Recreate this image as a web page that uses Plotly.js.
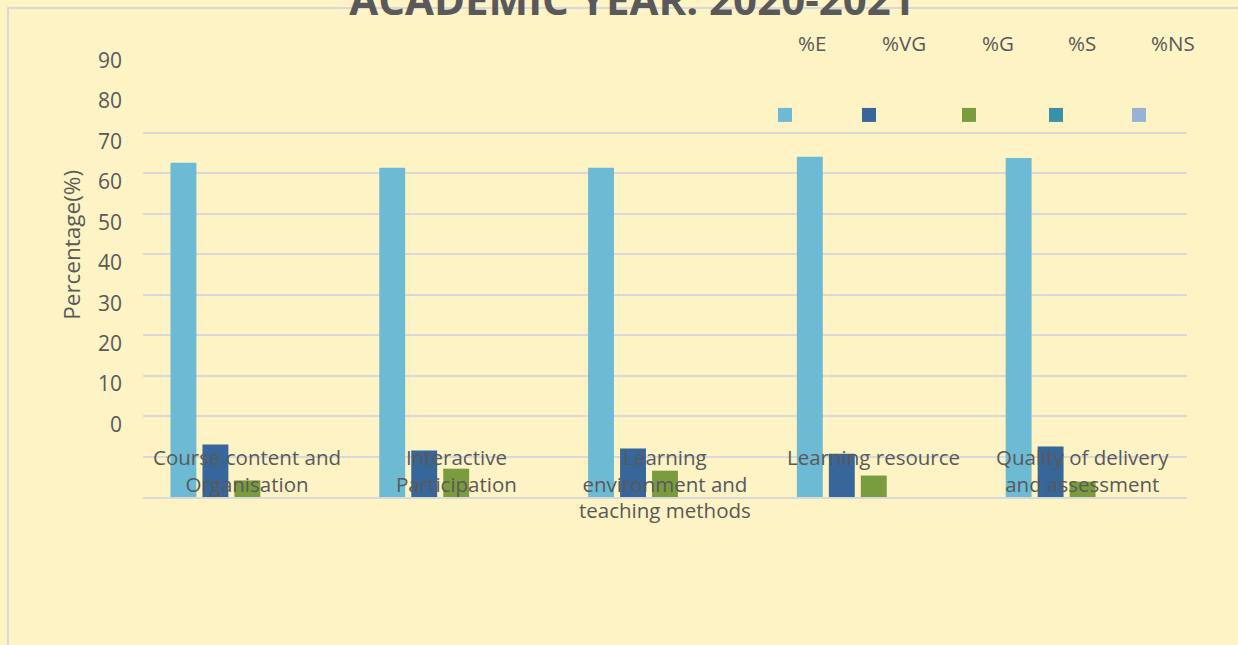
<!DOCTYPE html>
<html>
<head>
<meta charset="utf-8">
<script src="https://cdn.plot.ly/plotly-3.0.1.min.js"></script>
<style>
  html, body { margin: 0; padding: 0; background: #FDF3C5; }
  #chart { width: 1238px; height: 645px; }
</style>
</head>
<body>
<div id="chart"></div>
<script>
// ---- data ----
const categories = [
  "Course content and Organisation",
  "Interactive Participation",
  "Learning environment and teaching methods",
  "Learning resource",
  "Quality of delivery and assessment"
];
const categoryLabels = [
  "Course content and<br>Organisation",
  "Interactive<br>Participation",
  "Learning<br>environment and<br>teaching methods",
  "Learning resource",
  "Quality of delivery<br>and assessment"
];
const seriesNames = ["%E", "%VG", "%G", "%S", "%NS"];
const pctE  = [82.6, 81.4, 81.4, 84.1, 83.8];
const pctVG = [13.0, 11.5, 12.0, 10.7, 12.5];
const pctG  = [4.1, 7.0, 6.5, 5.3, 3.8];
const pctS  = [0, 0, 0, 0, 0];
const pctNS = [0, 0, 0, 0, 0];
const yTickLabels = ["0", "10", "20", "30", "40", "50", "60", "70", "80", "90"];
const gridValues = [0, 10, 20, 30, 40, 50, 60, 70, 80, 90];
const titleText = "ACADEMIC YEAR: 2020-2021";
const yTitle = "Percentage(%)";

// ---- styles ----
const colors = ["#6DBAD4", "#37669B", "#7B9C3E", "#3891A8", "#95B3D7"];
const textColor = "#595959";
const gridColor = "#D9D9D9";
const font = "Open Sans, Noto Sans, sans-serif";

const W = 1238, H = 645;
const plotL = 143, plotR = 1187, plotT = 52, plotB = 497.5;
const pw = plotR - plotL, ph = plotB - plotT;
const px2x = p => (p - plotL) / pw;
const px2y = p => (plotB - p) / ph;

const allSeries = [pctE, pctVG, pctG, pctS, pctNS];
const traces = allSeries.map((vals, i) => ({
  type: "bar",
  name: seriesNames[i],
  x: categories,
  y: vals,
  marker: { color: colors[i] },
  showlegend: false,
  hoverinfo: "x+y+name"
}));
// invisible trace for secondary (label) axis
traces.push({
  type: "scatter", x: [categories[0]], y: [0], yaxis: "y2",
  mode: "markers", marker: { opacity: 0 }, showlegend: false, hoverinfo: "skip"
});

const annotations = [];
categories.forEach((c, i) => {
  annotations.push({
    x: c, xref: "x", y: px2y(441), yref: "paper",
    xanchor: "center", yanchor: "top",
    text: categoryLabels[i], showarrow: false,
    font: { family: font, size: 20.5, color: textColor }
  });
});
annotations.push({
  x: px2x(72), xref: "paper", y: px2y(245), yref: "paper",
  xanchor: "center", yanchor: "middle", textangle: -90,
  text: yTitle, showarrow: false,
  font: { family: font, size: 22.5, color: textColor }
});

// legend (text above, swatches below, as in the reference)
const legendLabelLeft = [798, 882, 982, 1068, 1151];
const legendSwatchCenter = [785, 869, 969, 1056, 1139];
const shapes = [];
seriesNames.forEach((n, i) => {
  annotations.push({
    x: px2x(legendLabelLeft[i] - 2), xref: "paper", y: px2y(43), yref: "paper",
    xanchor: "left", yanchor: "middle", text: n, showarrow: false,
    font: { family: font, size: 20.5, color: textColor }
  });
  shapes.push({
    type: "rect", xref: "paper", yref: "paper",
    x0: px2x(legendSwatchCenter[i] - 7), x1: px2x(legendSwatchCenter[i] + 7),
    y0: px2y(115 + 7), y1: px2y(115 - 7),
    fillcolor: colors[i], line: { width: 0 }
  });
});
// chart frame
shapes.push({
  type: "path", xref: "paper", yref: "paper",
  path: `M ${px2x(8)},${px2y(700)} L ${px2x(8)},${px2y(8)} L ${px2x(1260)},${px2y(8)}`,
  line: { color: "#D9D9D9", width: 2 }, layer: "below"
});

const layout = {
  width: W, height: H,
  paper_bgcolor: "#FDF3C5",
  plot_bgcolor: "rgba(0,0,0,0)",
  margin: { l: plotL, r: W - plotR, t: plotT, b: H - plotB, pad: 0 },
  title: {
    text: "<b>" + titleText + "</b>",
    x: 632 / W, xanchor: "center", xref: "container",
    y: 1, yanchor: "middle", yref: "container",
    font: { family: font, size: 42, color: textColor }
  },
  barmode: "group",
  bargap: 0.234,
  bargroupgap: 0.19,
  xaxis: {
    showticklabels: false, showgrid: false, zeroline: false,
    showline: true, linecolor: gridColor, linewidth: 2,
    ticks: ""
  },
  yaxis: {
    range: [0, 110], tickvals: gridValues, showticklabels: false,
    showgrid: true, gridcolor: gridColor, gridwidth: 2,
    zeroline: false, showline: false, ticks: "", fixedrange: true
  },
  yaxis2: {
    overlaying: "y", side: "left", range: [0, 110],
    tickvals: yTickLabels.map((t, i) => gridValues[i] + 17.9),
    ticktext: yTickLabels,
    showgrid: false, zeroline: false, showline: false,
    ticks: "", ticklabelstandoff: 20,
    tickfont: { family: font, size: 21, color: textColor }
  },
  annotations: annotations,
  shapes: shapes,
  showlegend: false
};

Plotly.newPlot("chart", traces, layout, { displayModeBar: false, staticPlot: true });
</script>
</body>
</html>
